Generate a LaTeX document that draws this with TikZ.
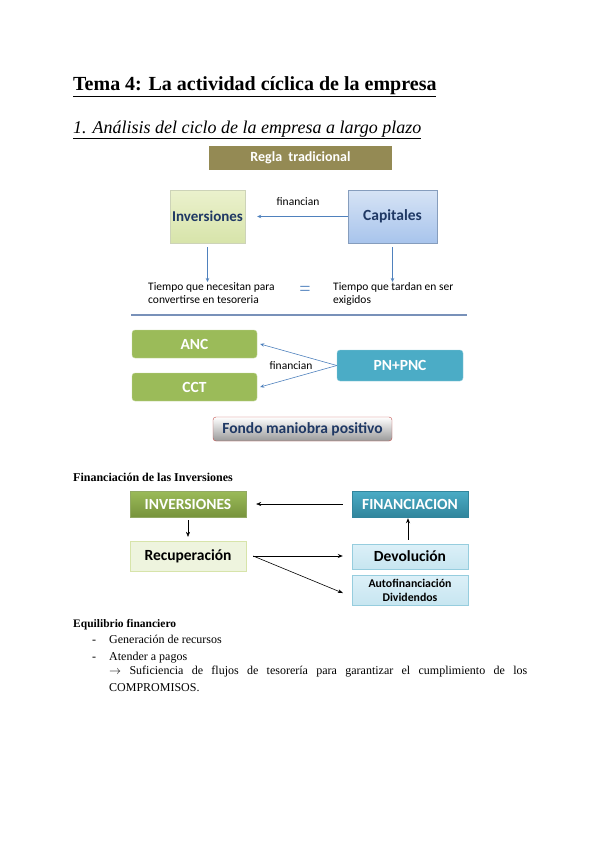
\documentclass[tikz,border=0pt]{standalone}
\usepackage{fontspec}
\setmainfont{Liberation Serif}
\newfontfamily\calibri{Carlito}
\usepackage{xcolor}
\usepackage{tikz}
\usetikzlibrary{arrows.meta, positioning, calc}
\definecolor{reglacolor}{RGB}{148,138,84}
\definecolor{lightgreen}{RGB}{235,241,205}
\definecolor{lightgreenb}{RGB}{215,228,170}
\definecolor{lightblue}{RGB}{214,227,245}
\definecolor{lightblueb}{RGB}{168,196,236}
\definecolor{darktext}{RGB}{31,56,100}
\definecolor{ancgreen}{RGB}{155,187,89}
\definecolor{tealcolor}{RGB}{75,172,198}
\definecolor{tealdark}{RGB}{49,133,156}
\definecolor{darkgreen}{RGB}{119,147,60}
\definecolor{arrowblue}{RGB}{79,129,189}
\definecolor{rulecolor}{RGB}{120,145,185}
\definecolor{fondoborder}{RGB}{192,80,77}
\definecolor{palegreen}{RGB}{238,244,222}
\definecolor{paleblue}{RGB}{220,240,248}
\definecolor{paleblueb}{RGB}{150,205,222}

\begin{document}
\begin{tikzpicture}[
    x=1pt, y=-1pt,
    box/.style={inner sep=0pt, font=\calibri\bfseries},
    regla/.style={box, fill=reglacolor, text=white, minimum width=183pt, minimum height=24pt, font=\calibri\bfseries\fontsize{14}{16}\selectfont},
    greenbox/.style={box, draw=lightgreenb!80!black!60, top color=lightgreen, bottom color=lightgreenb, text=darktext, minimum width=75pt, minimum height=53pt, font=\calibri\bfseries\fontsize{15}{18}\selectfont},
    bluebox/.style={box, draw=lightblueb!80!black, top color=lightblue, bottom color=lightblueb, text=darktext, minimum width=89pt, minimum height=53pt, font=\calibri\bfseries\fontsize{15.5}{18}\selectfont},
    ancbox/.style={box, draw=ancgreen!60, fill=ancgreen, text=white, rounded corners=3pt, minimum width=125pt, minimum height=28pt, font=\calibri\bfseries\fontsize{15.5}{17}\selectfont},
    pnbox/.style={box, draw=tealcolor!60, fill=tealcolor, text=white, rounded corners=3pt, minimum width=126pt, minimum height=31pt, font=\calibri\bfseries\fontsize{15.5}{17}\selectfont},
    fondo/.style={box, draw=fondoborder, top color=white, bottom color=black!40, text=darktext, rounded corners=3pt, minimum width=179pt, minimum height=24pt, font=\calibri\bfseries\fontsize{15.5}{17}\selectfont},
    caja/.style={box, minimum width=116pt, text=white, font=\calibri\bfseries\fontsize{15.5}{17}\selectfont},
    palebox/.style={box, minimum width=116pt, text=black, font=\calibri\bfseries\fontsize{15.5}{17}\selectfont},
    small/.style={inner sep=0pt, font=\calibri\fontsize{11.5}{13}\selectfont},
    note/.style={inner sep=0pt, align=left, anchor=north west, font=\calibri\fontsize{11.5}{13}\selectfont},
    body/.style={inner sep=0pt, anchor=base west, font=\fontsize{12}{17}\selectfont},
    financia/.style={-{Stealth[length=4pt, width=3.5pt]}, arrowblue, semithick},
    flecha/.style={-{Stealth[length=5pt, width=4pt]}, black}
]
    \useasboundingbox (0,0) rectangle (600,848);

    % Titles
    \node[inner sep=0pt, anchor=base west, font=\bfseries\fontsize{20}{24}\selectfont] (title) at (73,91) {\underline{Tema 4: La actividad cíclica de la empresa}};
    \node[inner sep=0pt, anchor=base west, font=\itshape\fontsize{18}{21}\selectfont] (subtitle) at (73,133) {\underline{1. Análisis del ciclo de la empresa a largo plazo}};

    % Regla tradicional
    \node[regla] (regla) at (300.5,158) {Regla\ \ tradicional};
    \node[greenbox] (inv) at (207.5,216.5) {Inversiones};
    \node[bluebox] (cap) at (392.5,216.5) {Capitales};
    \node[small] (fin1) at (298,202) {financian};
    \node[note] (tnec) at (148,282) {Tiempo que necesitan para\\convertirse en tesoreria};
    \node[note] (ttar) at (333,282) {Tiempo que tardan en ser\\exigidos};
    \node[inner sep=0pt, text=arrowblue, font=\fontsize{20}{20}\selectfont] (igual) at (305,291) {=};

    \draw[financia] (cap.west) -- ([xshift=12pt]inv.east);
    \draw[financia] ([yshift=-4pt]inv.south) -- (inv.south |- tnec.north);
    \draw[financia] ([yshift=-4pt]cap.south) -- (cap.south |- ttar.north);

    \draw[rulecolor, line width=1.6pt] (131,315) -- (467,315);

    % Fondo de maniobra
    \node[ancbox] (anc) at (194.5,344) {ANC};
    \node[ancbox] (cct) at (194.5,387) {CCT};
    \node[pnbox] (pn) at (400,365.5) {PN+PNC};
    \node[small] (fin2) at (291,366) {financian};
    \draw[financia] (pn.west) -- ([xshift=3pt]anc.east);
    \draw[financia] (pn.west) -- ([xshift=3pt]cct.east);
    \node[fondo] (fondo) at (302.5,429) {Fondo maniobra positivo};

    % Financiacion de las inversiones
    \node[body, font=\bfseries\fontsize{12}{14}\selectfont] (fintit) at (73,481) {Financiación de las Inversiones};
    \node[caja, minimum height=26pt, top color=ancgreen, bottom color=darkgreen, draw=darkgreen!80] (INV) at (188,504) {INVERSIONES};
    \node[caja, minimum height=26pt, top color=tealcolor, bottom color=tealdark, draw=tealdark] (FIN) at (410,504) {FINANCIACION};
    \node[palebox, minimum height=30pt, fill=palegreen, draw=lightgreenb] (rec) at (188,556) {Recuperación};
    \node[palebox, minimum height=25pt, top color=paleblue, bottom color=paleblue!70!paleblueb, draw=paleblueb] (dev) at (410,556.5) {Devolución};
    \node[palebox, minimum height=30pt, align=center, top color=paleblue, bottom color=paleblue!70!paleblueb, draw=paleblueb, font=\calibri\bfseries\fontsize{11.8}{14}\selectfont] (auto) at (410,590) {Autofinanciación\\Dividendos};

    \draw[flecha] ([xshift=-9pt]FIN.west) -- ([xshift=10pt]INV.east);
    \draw[flecha] ([yshift=-3pt]INV.south) -- ([yshift=4pt]rec.north);
    \draw[flecha, thick] ([xshift=-2pt,yshift=4pt]dev.north) -- ([xshift=-2pt,yshift=-1pt]FIN.south);
    \draw[flecha, thick] ([xshift=7pt]rec.east) -- ([xshift=-9pt]rec.east -| dev.west);
    \draw[flecha, semithick] ([xshift=7pt]rec.east) -- ([xshift=-9pt,yshift=-3pt]auto.west);

    % Equilibrio financiero
    \node[body, font=\bfseries\fontsize{11.5}{14}\selectfont] (equi) at (73,627) {Equilibrio financiero};
    \node[body] (g1) at (92,643) {-};
    \node[body] (gen) at (109,643) {Generación de recursos};
    \node[body] (g2) at (92,660) {-};
    \node[body] (aten) at (109,660) {Atender a pagos};
    \node[inner sep=0pt, anchor=north west, text width=418pt, align=justify, font=\fontsize{12}{16.5}\selectfont] (sufi) at (109,666) {$\rightarrow$ Suficiencia de flujos de tesorería para garantizar el cumplimiento de los \mbox{COMPROMISOS.}};
\end{tikzpicture}
\end{document}
